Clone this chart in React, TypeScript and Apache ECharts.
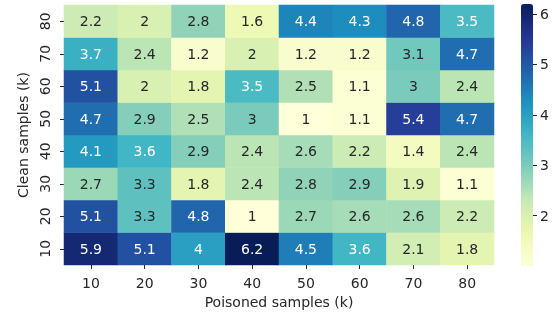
import React, { useEffect, useRef } from "react";
import * as echarts from "echarts";

const xCategories = ["10", "20", "30", "40", "50", "60", "70", "80"];
const yCategories = ["10", "20", "30", "40", "50", "60", "70", "80"];

// rows from y = 10 (bottom) to y = 80 (top), columns x = 10..80
const row10 = [5.9, 5.1, 4, 6.2, 4.5, 3.6, 2.1, 1.8];
const row20 = [5.1, 3.3, 4.8, 1, 2.7, 2.6, 2.6, 2.2];
const row30 = [2.7, 3.3, 1.8, 2.4, 2.8, 2.9, 1.9, 1.1];
const row40 = [4.1, 3.6, 2.9, 2.4, 2.6, 2.2, 1.4, 2.4];
const row50 = [4.7, 2.9, 2.5, 3, 1, 1.1, 5.4, 4.7];
const row60 = [5.1, 2, 1.8, 3.5, 2.5, 1.1, 3, 2.4];
const row70 = [3.7, 2.4, 1.2, 2, 1.2, 1.2, 3.1, 4.7];
const row80 = [2.2, 2, 2.8, 1.6, 4.4, 4.3, 4.8, 3.5];
const rows = [row10, row20, row30, row40, row50, row60, row70, row80];

const colorbarTicks = [2, 3, 4, 5, 6];
const vMin = 1;
const vMax = 6.2;

const YlGnBu = [
  "#ffffd9",
  "#edf8b1",
  "#c7e9b4",
  "#7fcdbb",
  "#41b6c4",
  "#1d91c0",
  "#225ea8",
  "#253494",
  "#081d58",
];

const FONT = "DejaVu Sans";
const TEXT = "#262626";

export default function App() {
  const ref = useRef<HTMLDivElement>(null);
  useEffect(() => {
    if (!ref.current) return;
    const chart = echarts.init(ref.current, undefined, { renderer: "svg" });
    const data: any[] = [];
    rows.forEach((row, j) => {
      row.forEach((v, i) => {
        data.push({
          value: [i, j, v],
          label: { color: v >= 3.45 ? "#ffffff" : TEXT },
        });
      });
    });
    chart.setOption({
      animation: false,
      textStyle: { fontFamily: FONT },
      grid: [
        { left: 64, top: 5, width: 430, height: 260 },
        { left: 521, top: 4, width: 12, height: 262 },
      ],
      xAxis: [
        {
          type: "category",
          gridIndex: 0,
          data: xCategories,
          name: "Poisoned samples (k)",
          nameLocation: "middle",
          nameGap: 28,
          nameTextStyle: { fontSize: 14, color: TEXT, fontFamily: FONT },
          axisLine: { show: false },
          axisTick: { show: true, alignWithLabel: true, length: 4, lineStyle: { color: TEXT } },
          axisLabel: { fontSize: 14, color: TEXT, margin: 11, fontFamily: FONT },
          splitLine: { show: false },
        },
        {
          type: "category",
          gridIndex: 1,
          data: ["c"],
          show: false,
        },
      ],
      yAxis: [
        {
          type: "category",
          gridIndex: 0,
          data: yCategories,
          name: "Clean samples (k)",
          nameLocation: "middle",
          nameGap: 34,
          nameRotate: 90,
          nameTextStyle: { fontSize: 14, color: TEXT, fontFamily: FONT },
          axisLine: { show: false },
          axisTick: { show: true, alignWithLabel: true, length: 4, lineStyle: { color: TEXT } },
          axisLabel: { fontSize: 14, color: TEXT, margin: 12, rotate: 90, fontFamily: FONT },
          splitLine: { show: false },
        },
        {
          type: "value",
          gridIndex: 1,
          position: "right",
          min: vMin,
          max: vMax,
          axisLine: { show: false },
          axisTick: {
            show: true,
            length: 4,
            customValues: colorbarTicks,
            lineStyle: { color: TEXT },
          },
          axisLabel: {
            fontSize: 14,
            color: TEXT,
            margin: 7,
            customValues: colorbarTicks,
            fontFamily: FONT,
          },
          splitLine: { show: false },
        },
      ],
      visualMap: {
        type: "continuous",
        min: vMin,
        max: vMax,
        seriesIndex: 0,
        calculable: false,
        show: true,
        left: 521,
        top: 4,
        itemWidth: 12,
        itemHeight: 262,
        padding: 0,
        inRange: { color: YlGnBu },
        hoverLink: false,
      },
      series: [
        {
          type: "heatmap",
          xAxisIndex: 0,
          yAxisIndex: 0,
          data,
          label: {
            show: true,
            fontSize: 14,
            fontFamily: FONT,
            textBorderWidth: 0,
            formatter: (p: any) => String(p.value[2]),
          },
          emphasis: { disabled: true },
        },
        {
          type: "scatter",
          xAxisIndex: 1,
          yAxisIndex: 1,
          data: [],
        },
      ],
    });
    return () => chart.dispose();
  }, []);
  return (
    <div
      ref={ref}
      style={{ position: "fixed", left: 0, top: 0, width: 557, height: 317 }}
    />
  );
}
